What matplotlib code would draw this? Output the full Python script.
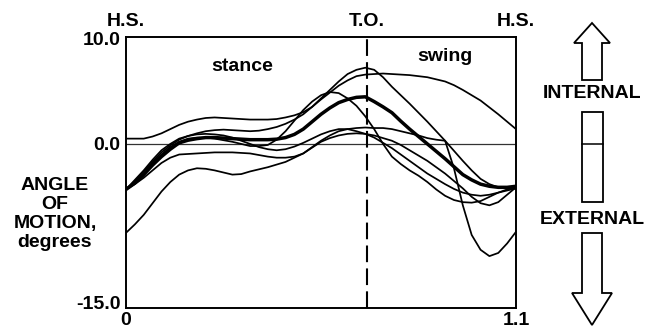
import matplotlib
matplotlib.use("Agg")
import matplotlib.pyplot as plt
from matplotlib.patches import Polygon, Rectangle
from matplotlib.transforms import blended_transform_factory

# gait cycle time (s), heel strike to heel strike
time_s = [0.000, 0.025, 0.050, 0.075, 0.100, 0.125, 0.150, 0.175, 0.200, 0.225,
          0.250, 0.275, 0.300, 0.325, 0.350, 0.375, 0.400, 0.425, 0.450, 0.475,
          0.500, 0.525, 0.550, 0.575, 0.600, 0.625, 0.650, 0.675, 0.700, 0.725,
          0.750, 0.775, 0.800, 0.825, 0.850, 0.875, 0.900, 0.925, 0.950, 0.975,
          1.000, 1.025, 1.050, 1.075, 1.100]

# individual strides (degrees of rotation)
stride_1 = [0.5, 0.5, 0.5, 0.7, 1.0, 1.4, 1.8, 2.1, 2.3, 2.45,
            2.5, 2.45, 2.4, 2.35, 2.3, 2.3, 2.3, 2.35, 2.5, 2.7,
            3.0, 3.5, 4.2, 4.85, 5.5, 6.0, 6.4, 6.55, 6.6, 6.65,
            6.6, 6.55, 6.5, 6.4, 6.3, 6.1, 5.9, 5.55, 5.1, 4.6,
            4.1, 3.45, 2.8, 2.1, 1.4]
stride_2 = [-4.3, -3.5, -2.6, -1.7, -0.8, -0.15, 0.4, 0.75, 1.0, 1.2,
            1.3, 1.35, 1.3, 1.25, 1.2, 1.25, 1.4, 1.6, 1.9, 2.3,
            2.8, 3.5, 4.3, 5.1, 5.9, 6.6, 7.0, 7.2, 7.0, 6.3,
            5.4, 4.6, 3.8, 2.95, 2.1, 1.2, 0.3, -0.65, -1.6, -2.5,
            -3.3, -3.8, -4.1, -4.2, -4.2]
stride_3 = [-4.3, -3.6, -2.8, -1.8, -1.0, -0.3, 0.2, 0.5, 0.6, 0.6,
            0.5, 0.35, 0.2, 0.0, -0.2, -0.2, -0.1, 0.4, 1.2, 2.2,
            3.2, 4.0, 4.6, 4.9, 4.8, 4.3, 3.6, 2.6, 1.4, 0.0,
            -1.2, -1.9, -2.5, -3.0, -3.6, -4.3, -4.9, -5.3, -5.5, -5.55,
            -5.4, -5.0, -4.6, -4.3, -4.1]
stride_4 = [-4.3, -3.4, -2.5, -1.5, -0.6, 0.0, 0.5, 0.75, 0.9, 0.95,
            0.9, 0.8, 0.6, 0.3, 0.0, -0.3, -0.5, -0.6, -0.5, -0.25,
            0.1, 0.5, 0.9, 1.2, 1.4, 1.4, 1.2, 0.95, 0.6, 0.1,
            -0.4, -1.0, -1.6, -2.2, -2.8, -3.3, -3.8, -4.25, -4.6, -4.8,
            -4.9, -4.8, -4.6, -4.4, -4.2]
stride_5 = [-4.3, -3.8, -3.2, -2.5, -1.8, -1.3, -1.0, -0.95, -0.9, -0.85,
            -0.8, -0.8, -0.8, -0.85, -0.9, -1.05, -1.2, -1.3, -1.3, -1.2,
            -0.9, -0.35, 0.2, 0.55, 0.8, 0.95, 1.0, 0.95, 0.8, 0.55,
            0.3, -0.1, -0.6, -1.1, -1.6, -2.2, -2.8, -3.5, -4.2, -5.0,
            -5.6, -5.8, -5.5, -4.8, -4.1]
stride_6 = [-8.4, -7.6, -6.7, -5.6, -4.5, -3.6, -2.9, -2.5, -2.3, -2.35,
            -2.5, -2.7, -2.9, -2.85, -2.6, -2.4, -2.2, -1.95, -1.7, -1.3,
            -0.9, -0.3, 0.3, 0.8, 1.2, 1.4, 1.5, 1.55, 1.5, 1.5,
            1.4, 1.2, 1.0, 0.8, 0.55, 0.4, 0.3, -2.3, -5.8, -8.6,
            -10.0, -10.6, -10.3, -9.4, -8.3]
strides = [stride_1, stride_2, stride_3, stride_4, stride_5, stride_6]

# average of the strides
mean_curve = [-4.3, -3.7, -2.9, -2.0, -1.2, -0.5, 0.1, 0.35, 0.5, 0.6,
              0.6, 0.55, 0.5, 0.45, 0.4, 0.4, 0.4, 0.45, 0.6, 0.9,
              1.4, 2.1, 2.8, 3.4, 3.9, 4.2, 4.4, 4.45, 4.0, 3.5,
              2.95, 2.15, 1.4, 0.7, 0.0, -0.7, -1.4, -2.15, -2.9, -3.4,
              -3.8, -4.0, -4.1, -4.1, -4.0]

toe_off_s = 0.68
event_times = [0.0, toe_off_s, 1.1]
event_labels = ["H.S.", "T.O.", "H.S."]
y_ticks = [-15.0, 0.0, 10.0]
y_tick_labels = ["-15.0", "0.0", "10.0"]
x_ticks = [0.0, 1.1]
x_tick_labels = ["0", "1.1"]
box_top, box_bottom = 3.0, -5.5

FONT = "Liberation Sans"
FS = 14

fig = plt.figure(figsize=(6.48, 3.32), dpi=100)
ax = fig.add_axes([126 / 648, 24 / 332, 390 / 648, 271 / 332])

for s in strides:
    ax.plot(time_s, s, color="black", lw=1.25, solid_joinstyle="round", zorder=3)
ax.plot(time_s, mean_curve, color="black", lw=2.5, solid_joinstyle="round", zorder=4)

ax.axhline(0.0, color="#333333", lw=0.9, zorder=2)
ax.axvline(toe_off_s, color="black", lw=1.5, linestyle=(0, (8, 3)), zorder=2)

ax.set_xlim(0, 1.1)
ax.set_ylim(-15.5, 10.1)
ax.set_xticks(x_ticks)
ax.set_xticklabels(x_tick_labels, fontfamily=FONT, fontweight="bold", fontsize=FS)
ax.set_yticks(y_ticks)
ax.set_yticklabels(y_tick_labels, fontfamily=FONT, fontweight="bold", fontsize=FS)
ax.tick_params(length=0)
ax.tick_params(axis="y", pad=4)
ax.tick_params(axis="x", pad=3)
for sp in ax.spines.values():
    sp.set_linewidth(1.4)

# gait events above the plot
top_tf = blended_transform_factory(ax.transData, ax.transAxes)
for t, lab in zip(event_times, event_labels):
    ax.text(t, 1.058, lab, transform=top_tf, ha="center", va="center",
            fontfamily=FONT, fontweight="bold", fontsize=FS, clip_on=False)

ax.text(0.327, 7.3, "stance", ha="center", va="center",
        fontfamily=FONT, fontweight="bold", fontsize=FS)
ax.text(0.90, 8.3, "swing", ha="center", va="center",
        fontfamily=FONT, fontweight="bold", fontsize=FS)

fig.text(55 / 648, 1 - 214 / 332, "ANGLE\nOF\nMOTION,\ndegrees", ha="center",
         va="center", fontfamily=FONT, fontweight="bold", fontsize=FS, linespacing=1.15)

# internal / external key on the right, box spans the mean range
side_tf = blended_transform_factory(ax.transAxes, ax.transData)
ax.add_patch(Rectangle((1.169, box_bottom), 0.054, box_top - box_bottom, transform=side_tf,
                       fill=False, lw=1.3, edgecolor="black", clip_on=False))
ax.plot([1.169, 1.223], [0.0, 0.0], transform=side_tf, color="black", lw=1.1, clip_on=False)

overlay = fig.add_axes([0, 0, 1, 1], facecolor="none")
overlay.set_xlim(0, 648)
overlay.set_ylim(332, 0)
overlay.axis("off")

cx = 592
up = [(cx, 23), (cx + 18, 43), (cx + 10, 43), (cx + 10, 80), (cx - 10, 80),
      (cx - 10, 43), (cx - 18, 43)]
down = [(cx, 325), (cx + 20, 293), (cx + 10, 293), (cx + 10, 233), (cx - 10, 233),
        (cx - 10, 293), (cx - 20, 293)]
for pts in (up, down):
    overlay.add_patch(Polygon(pts, closed=True, fill=False, lw=1.3, edgecolor="black",
                              joinstyle="miter"))
overlay.text(cx, 94, "INTERNAL", ha="center", va="center",
             fontfamily=FONT, fontweight="bold", fontsize=FS)
overlay.text(cx, 219, "EXTERNAL", ha="center", va="center",
             fontfamily=FONT, fontweight="bold", fontsize=FS)

fig.savefig("out.png", dpi=100)
